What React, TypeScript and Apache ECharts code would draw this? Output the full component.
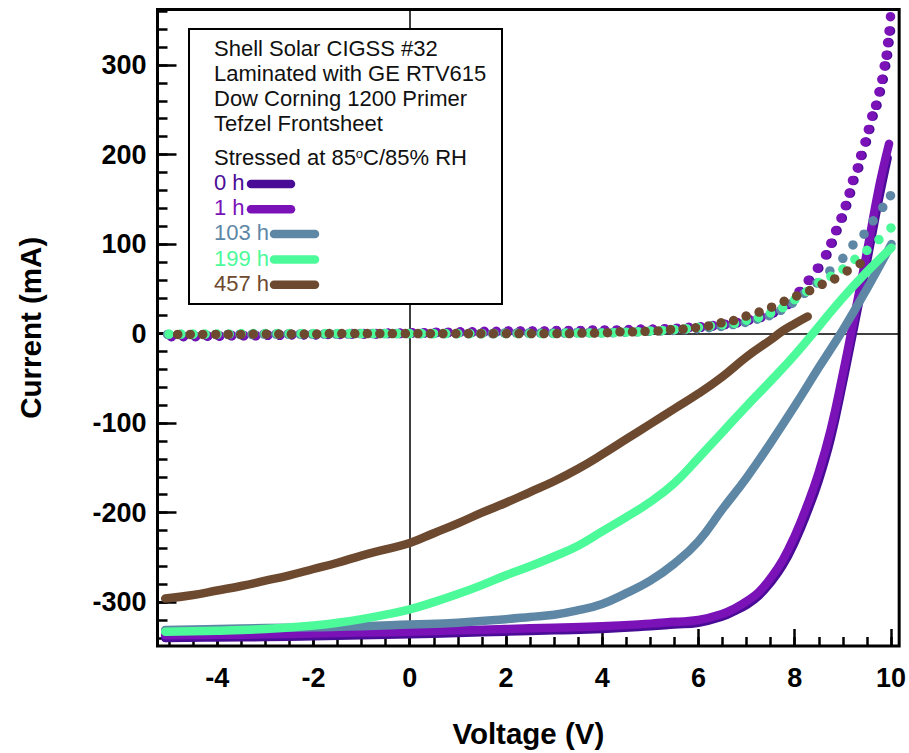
import React, { useEffect, useRef } from "react";
import * as echarts from "echarts";

// ---------- data ----------
const seriesNames = ["0 h", "1 h", "103 h", "199 h", "457 h"];
const seriesColors = ["#4a0c96", "#7a12b8", "#5e87a6", "#4cfa9a", "#6d4a2f"];

const titleLines = [
  "Shell Solar CIGSS #32",
  "Laminated with GE RTV615",
  "Dow Corning 1200 Primer",
  "Tefzel Frontsheet",
];
const stressText = "Stressed at 85{sup|o}C/85% RH";

const xLabelValues = [-4, -2, 0, 2, 4, 6, 8, 10];
const xMajorTicks = [-4, -2, 0, 2, 4, 6, 8, 10];
const xMinorTicks = [-5, -4.5, -4, -3.5, -3, -2.5, -2, -1.5, -1, -0.5, 0, 0.5, 1, 1.5, 2, 2.5, 3, 3.5, 4, 4.5, 5, 5.5, 6, 6.5, 7, 7.5, 8, 8.5, 9, 9.5, 10];
const yLabelValues = [-300, -200, -100, 0, 100, 200, 300];
const yMajorTicks = [-300, -200, -100, 0, 100, 200, 300];
const yMinorTicks = [-340, -320, -300, -280, -260, -240, -220, -200, -180, -160, -140, -120, -100, -80, -60, -40, -20, 0, 20, 40, 60, 80, 100, 120, 140, 160, 180, 200, 220, 240, 260, 280, 300, 320, 340, 360];

// Light IV curves (solid)
const lightV0 = [-5.08, -4, -3, -2, -1, 0, 1, 2, 3, 4, 5, 5.5, 6, 6.5, 6.75, 7, 7.25, 7.5, 7.75, 8, 8.25, 8.5, 8.75, 9, 9.25, 9.5, 9.75, 9.93];
const lightI0 = [-340, -339.5, -339, -338, -337, -336, -334.5, -333, -331.5, -330, -327, -325, -323, -316, -310, -303, -293, -278, -259, -233, -201, -164, -117, -55, 12, 80, 150, 196];
const lightV1 = [-5.08, -4, -3, -2, -1, 0, 1, 2, 3, 4, 5, 5.5, 6, 6.5, 6.75, 7, 7.25, 7.5, 7.75, 8, 8.25, 8.5, 8.75, 9, 9.25, 9.5, 9.75, 9.96];
const lightI1 = [-337, -336.5, -336, -335, -334, -333, -331.5, -330, -328.5, -327, -324, -322, -320, -313, -307, -299, -289, -273, -253, -226, -193, -155, -107, -45, 22, 91, 163, 212];
const lightV103 = [-5.08, -4, -3, -2, -1, 0, 1, 2, 2.5, 3, 3.5, 4, 4.5, 5, 5.5, 6, 6.5, 7, 7.5, 8, 8.5, 9, 9.5, 10.01];
const lightI103 = [-331, -330, -329, -328, -327, -325, -323, -319, -316.5, -314, -309, -302, -290, -276, -257, -232, -196, -161, -122, -81, -38, 4, 50, 100];
const lightV199 = [-5.08, -4, -3, -2, -1.5, -1, -0.5, 0, 0.5, 1, 1.5, 2, 2.5, 3, 3.5, 4, 4.5, 5, 5.5, 6, 6.5, 7, 7.5, 8, 8.5, 9, 9.5, 10.01];
const lightI199 = [-333, -332, -330, -326, -323, -319, -314, -308, -300, -291, -281, -270, -260, -249, -237, -221, -205, -188, -167, -139, -110, -81, -53, -24, 8, 40, 69, 96];
const lightV457 = [-5.08, -4.5, -4, -3.5, -3, -2.5, -2, -1.5, -1, -0.5, 0, 0.5, 1, 1.5, 2, 2.5, 3, 3.5, 4, 4.5, 5, 5.5, 6, 6.5, 7, 7.5, 7.75, 8, 8.27];
const lightI457 = [-296, -292, -287, -282, -276, -270, -263, -256, -248, -241, -234, -223, -212, -200, -189, -177, -165, -151, -135, -118, -101, -84, -67, -48, -26, -7, 3, 11, 19];

// Dark IV curves (dots)
const darkV0 = [-4.95, -4.7, -4.45, -4.2, -3.95, -3.7, -3.45, -3.2, -2.95, -2.7, -2.45, -2.2, -1.95, -1.7, -1.45, -1.2, -0.95, -0.7, -0.45, -0.2, 0.05, 0.3, 0.55, 0.8, 1.05, 1.3, 1.55, 1.8, 2.05, 2.3, 2.55, 2.8, 3.05, 3.3, 3.55, 3.8, 4.05, 4.3, 4.55, 4.8, 5.05, 5.3, 5.55, 5.8, 6.05, 6.3, 6.55, 6.8, 7.05, 7.3, 7.56, 7.87, 8.12, 8.31, 8.5, 8.67, 8.78, 8.88, 8.99, 9.08, 9.16, 9.23, 9.33, 9.4, 9.49, 9.56, 9.63, 9.71, 9.78, 9.84, 9.89, 9.93, 9.96, 9.99];
const darkI0 = [-3.5, -3.5, -3.5, -3, -3, -2.5, -2.5, -2.5, -2, -2, -1.5, -1.5, -1.5, -1, -1, -0.5, -0.5, -0.5, 0, 0, 0.5, 0.5, 1, 1, 1.5, 1.5, 2, 2, 2.5, 2.5, 2.5, 2.5, 3, 3, 3, 3.5, 3.5, 3.5, 4, 4.5, 4.5, 5, 5.5, 6.5, 7, 8.5, 10, 12, 15, 18, 23, 32.5, 47, 59.5, 73, 88, 101, 115, 129, 143, 157, 171, 185, 199, 214, 228, 243, 255, 270, 284, 299, 311, 325, 338];
const darkV1 = [-4.95, -4.7, -4.45, -4.2, -3.95, -3.7, -3.45, -3.2, -2.95, -2.7, -2.45, -2.2, -1.95, -1.7, -1.45, -1.2, -0.95, -0.7, -0.45, -0.2, 0.05, 0.3, 0.55, 0.8, 1.05, 1.3, 1.55, 1.8, 2.05, 2.3, 2.55, 2.8, 3.05, 3.3, 3.55, 3.8, 4.05, 4.3, 4.55, 4.8, 5.05, 5.3, 5.55, 5.8, 6.05, 6.3, 6.55, 6.8, 7.05, 7.3, 7.53, 7.84, 8.09, 8.28, 8.47, 8.64, 8.75, 8.85, 8.96, 9.05, 9.13, 9.2, 9.3, 9.37, 9.46, 9.53, 9.6, 9.68, 9.75, 9.81, 9.86, 9.9, 9.93, 9.96, 9.99];
const darkI1 = [-3, -3, -3, -2.5, -2.5, -2, -2, -2, -1.5, -1.5, -1, -1, -1, -0.5, -0.5, 0, 0, 0, 0.5, 0.5, 1, 1, 1.5, 1.5, 2, 2, 2.5, 2.5, 3, 3, 3, 3, 3.5, 3.5, 3.5, 4, 4, 4, 4.5, 5, 5, 5.5, 6, 7, 7.5, 9, 10.5, 12.5, 16, 19, 23, 32.5, 47, 59.5, 73, 88, 101, 115, 129, 143, 157, 171, 185, 199, 214, 228, 243, 255, 270, 284, 299, 311, 325, 338, 354];
const darkV103 = [-5.03, -4.78, -4.53, -4.28, -4.03, -3.78, -3.53, -3.28, -3.03, -2.78, -2.53, -2.28, -2.03, -1.78, -1.53, -1.28, -1.03, -0.78, -0.53, -0.28, -0.03, 0.22, 0.47, 0.72, 0.97, 1.22, 1.47, 1.72, 1.97, 2.22, 2.47, 2.72, 2.97, 3.22, 3.47, 3.72, 3.97, 4.22, 4.47, 4.72, 4.97, 5.22, 5.47, 5.72, 5.97, 6.22, 6.47, 6.72, 6.97, 7.22, 7.47, 7.71, 7.95, 8.2, 8.46, 8.73, 9.0, 9.21, 9.44, 9.63, 9.83, 9.99];
const darkI103 = [-1, -1, -1, -1, -1, -1, -1, -1, -0.5, -0.5, -0.5, -0.5, -0.5, -0.5, -0.5, -0.5, 0, 0, 0, 0, 0, 0, 0, 0, 0, 0, 0, 0, 0.5, 0.5, 0.5, 0.5, 0.5, 0.5, 1, 1, 1, 1, 1.5, 2, 2.5, 3, 3.5, 4.5, 5.5, 6.5, 8, 10, 12.5, 16, 20, 26, 34, 45, 56.5, 70, 84, 99, 111, 126, 141, 154];
const darkV199 = [-5, -4.75, -4.5, -4.25, -4, -3.75, -3.5, -3.25, -3, -2.75, -2.5, -2.25, -2, -1.75, -1.5, -1.25, -1, -0.75, -0.5, -0.25, 0, 0.25, 0.5, 0.75, 1, 1.25, 1.5, 1.75, 2, 2.25, 2.5, 2.75, 3, 3.25, 3.5, 3.75, 4, 4.25, 4.5, 4.75, 5, 5.25, 5.5, 5.75, 6, 6.25, 6.5, 6.75, 7, 7.25, 7.5, 7.75, 8, 8.25, 8.5, 8.75, 9, 9.25, 9.5, 9.75, 10];
const darkI199 = [-0.5, -0.5, -0.5, -0.5, -0.5, -0.5, 0, 0, 0, 0, 0, 0, 0, 0, 0, 0, 0, 0, 0, 0, 0, 0, 0, 0, 0, 0, 0, 0, 0, 0, 0, 0, 0, 0.5, 0.5, 0.5, 0.5, 1, 1.5, 2, 3, 3.5, 4.5, 5.5, 7, 8.5, 10, 11.5, 15, 18, 23, 29, 38, 47, 57, 64, 72, 83, 93, 105, 118];
const darkV457 = [-4.82, -4.56, -4.3, -4.03, -3.77, -3.51, -3.25, -2.98, -2.72, -2.46, -2.19, -1.93, -1.67, -1.41, -1.14, -0.88, -0.62, -0.36, -0.09, 0.17, 0.43, 0.69, 0.96, 1.22, 1.48, 1.74, 2.01, 2.27, 2.53, 2.79, 3.06, 3.32, 3.58, 3.84, 4.11, 4.37, 4.63, 4.89, 5.16, 5.42, 5.68, 5.94, 6.21, 6.47, 6.73, 6.99, 7.26, 7.52, 7.78, 8.04, 8.31, 8.57, 8.83, 9.09, 9.36];
const darkI457 = [-1, -1, -1, -1, -1, -1, -0.5, -0.5, -0.5, -0.5, -0.5, -0.5, 0, 0, 0, 0, 0, 0, 0, 0, 0, 0, 0, 0, 0, 0, 0, 0, 0, 0, 0, 0, 0.5, 0.5, 1, 2, 2, 2.5, 3, 4.5, 5, 6.5, 8.5, 12, 14.5, 19.5, 24, 29.5, 36, 42, 48, 55, 61, 70, 78];

const lightSets = [
  [lightV0, lightI0],
  [lightV1, lightI1],
  [lightV103, lightI103],
  [lightV199, lightI199],
  [lightV457, lightI457],
];
const darkSets = [
  [darkV0, darkI0],
  [darkV1, darkI1],
  [darkV103, darkI103],
  [darkV199, darkI199],
  [darkV457, darkI457],
];

const FONT = '"Liberation Sans", Arial, Helvetica, sans-serif';

function zip(v: number[], c: number[]) {
  return v.map((x, i) => [x, c[i]]);
}

export default function App() {
  const ref = useRef<HTMLDivElement>(null);

  useEffect(() => {
    if (!ref.current) return;
    const chart = echarts.init(ref.current, undefined, { renderer: "svg" });

    const series: any[] = [];
    lightSets.forEach(([v, c], k) => {
      series.push({
        type: "line",
        name: seriesNames[k],
        data: zip(v, c),
        showSymbol: false,
        symbol: "none",
        smooth: 0.45,
        z: 2,
        itemStyle: { color: seriesColors[k] },
        lineStyle: { color: seriesColors[k], width: 8.5, cap: "round", join: "round" },
        ...(k === 0
          ? {
              markLine: {
                silent: true,
                z: 1,
                symbol: ["none", "none"],
                label: { show: false },
                lineStyle: { color: "#000", width: 1.5, type: "solid" },
                data: [{ xAxis: 0 }, { yAxis: 0 }],
              },
            }
          : {}),
      });
    });
    darkSets.forEach(([v, c], k) => {
      series.push({
        type: "scatter",
        name: seriesNames[k],
        data: zip(v, c),
        symbol: "circle",
        symbolSize: 9.5,
        z: 3,
        itemStyle: { color: seriesColors[k], opacity: 1 },
      });
    });

    const lineCenters = [184, 209.2, 234, 259.4, 284.7];
    const lineStarts = [251, 251, 274, 274, 274];
    const lineEnds = [291, 291, 315, 315, 315];
    const graphics: any[] = [
      {
        type: "rect",
        z: 100,
        shape: { x: 189, y: 29, width: 313, height: 275 },
        style: { fill: "#fff", stroke: "#000", lineWidth: 2 },
      },
    ];
    titleLines.forEach((t, i) => {
      graphics.push({
        type: "text",
        z: 101,
        style: {
          x: 214,
          y: 48.9 + 25 * i,
          text: t,
          fill: "#111",
          font: `22px ${FONT}`,
          fontSize: 22,
          fontFamily: FONT,
          verticalAlign: "middle",
          align: "left",
        },
      });
    });
    graphics.push({
      type: "text",
      z: 101,
      style: {
        x: 214,
        y: 157.9,
        text: stressText,
        fill: "#111",
        font: `22px ${FONT}`,
        fontSize: 22,
        fontFamily: FONT,
        verticalAlign: "middle",
        align: "left",
        rich: {
          sup: { fontSize: 13, fontFamily: FONT, font: `13px ${FONT}`, verticalAlign: "top", fill: "#111", lineHeight: 22 },
        },
      },
    });
    seriesNames.forEach((n, k) => {
      graphics.push({
        type: "text",
        z: 101,
        style: {
          x: 214,
          y: 182.4 + 25.2 * k,
          text: n,
          fill: seriesColors[k],
          font: `22px ${FONT}`,
          fontSize: 22,
          fontFamily: FONT,
          verticalAlign: "middle",
          align: "left",
        },
      });
      graphics.push({
        type: "line",
        z: 101,
        shape: { x1: lineStarts[k], y1: lineCenters[k], x2: lineEnds[k], y2: lineCenters[k] },
        style: { stroke: seriesColors[k], lineWidth: 8.5, lineCap: "round" },
      });
    });

    const labelStyle = { fontSize: 27, fontWeight: "bold", color: "#000", fontFamily: FONT };
    const nameStyle = { fontSize: 29.5, fontWeight: "bold", color: "#000", fontFamily: FONT };
    const tickLine = { color: "#000", width: 2.5 };
    const hiddenLine = { show: false, onZero: false };

    chart.setOption({
      animation: false,
      backgroundColor: "#fff",
      grid: {
        left: 157.5,
        right: 9,
        top: 9.5,
        bottom: 102,
        show: true,
        borderColor: "#000",
        borderWidth: 3,
        backgroundColor: "transparent",
      },
      xAxis: [
        {
          type: "value",
          min: -5.24,
          max: 10.17,
          position: "bottom",
          axisLine: hiddenLine,
          splitLine: { show: false },
          axisTick: { show: true, inside: true, length: 17, lineStyle: tickLine, customValues: xMajorTicks },
          axisLabel: { ...labelStyle, margin: 18, customValues: xLabelValues },
          name: "Voltage (V)",
          nameLocation: "middle",
          nameGap: 72,
          nameTextStyle: nameStyle,
        },
        {
          type: "value",
          min: -5.24,
          max: 10.17,
          position: "bottom",
          axisLine: hiddenLine,
          splitLine: { show: false },
          axisLabel: { show: false },
          axisTick: { show: true, inside: true, length: 9, lineStyle: tickLine, customValues: xMinorTicks },
        },
      ],
      yAxis: [
        {
          type: "value",
          min: -349,
          max: 362,
          position: "left",
          axisLine: hiddenLine,
          splitLine: { show: false },
          axisTick: { show: true, inside: true, length: 19, lineStyle: tickLine, customValues: yMajorTicks },
          axisLabel: { ...labelStyle, margin: 11, customValues: yLabelValues },
          name: "Current (mA)",
          nameLocation: "middle",
          nameGap: 112,
          nameTextStyle: nameStyle,
        },
        {
          type: "value",
          min: -349,
          max: 362,
          position: "left",
          axisLine: hiddenLine,
          splitLine: { show: false },
          axisLabel: { show: false },
          axisTick: { show: true, inside: true, length: 10, lineStyle: tickLine, customValues: yMinorTicks },
        },
      ],
      series,
      graphic: graphics,
    });

    return () => chart.dispose();
  }, []);

  return (
    <div
      ref={ref}
      style={{ position: "absolute", left: 0, top: 0, width: 909, height: 753, background: "#fff" }}
    />
  );
}
